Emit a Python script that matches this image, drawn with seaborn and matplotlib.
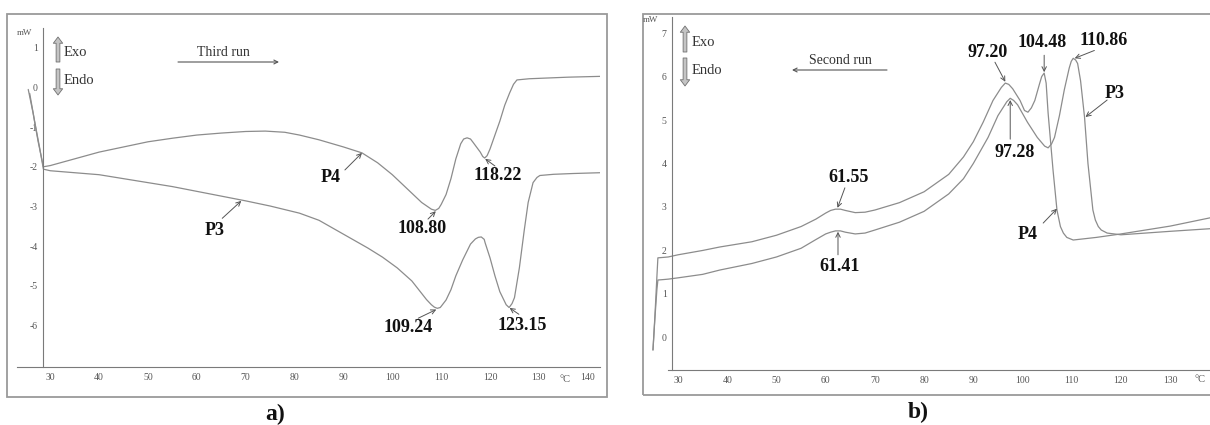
import matplotlib
matplotlib.use("Agg")
import matplotlib.pyplot as plt
import seaborn as sns
from matplotlib.patches import Rectangle
from matplotlib.ticker import MultipleLocator

# ---------------- data ----------------
# Panel a) third run
a_p4_temp = [25.5, 26.5, 27.5, 28.6, 30, 35, 40, 45, 50, 55, 60, 65, 70, 74, 78, 81, 85, 90,
             93.8, 97, 100, 103, 106, 108, 108.8, 109.5, 110, 111, 112, 113, 114, 114.6, 115.3,
             116, 116.5, 118, 118.5, 118.9, 119.4, 120, 121, 122, 123, 124, 124.8, 125.5, 128,
             132, 136, 142.5]
a_p4_mw = [-0.05, -0.65, -1.35, -2.0, -1.97, -1.8, -1.63, -1.5, -1.37, -1.28, -1.2, -1.15, -1.11,
           -1.1, -1.13, -1.2, -1.32, -1.5, -1.65, -1.9, -2.2, -2.55, -2.9, -3.07, -3.1, -3.05,
           -2.95, -2.7, -2.3, -1.8, -1.42, -1.3, -1.27, -1.3, -1.38, -1.63, -1.74, -1.78, -1.72,
           -1.55, -1.2, -0.85, -0.45, -0.14, 0.08, 0.19, 0.22, 0.24, 0.26, 0.28]
a_p3_temp = [25.8, 26.8, 27.8, 28.6, 30, 35, 40, 45, 50, 55, 60, 65, 70, 75, 81, 85, 90, 95, 98,
             101, 104, 107, 108, 108.6, 109.2, 109.8, 110, 111, 112, 113, 114.4, 116, 117, 117.6,
             118.2, 118.8, 119, 120, 121, 122, 123.3, 123.9, 124.5, 125, 126, 127, 127.8, 128.8,
             129.6, 130.2, 133, 137, 142.5]
a_p3_mw = [-0.15, -0.85, -1.5, -2.06, -2.1, -2.15, -2.2, -2.3, -2.4, -2.5, -2.62, -2.74, -2.86,
           -2.99, -3.17, -3.35, -3.7, -4.05, -4.28, -4.55, -4.88, -5.35, -5.48, -5.54, -5.57,
           -5.55, -5.52, -5.36, -5.1, -4.75, -4.35, -3.95, -3.82, -3.78, -3.77, -3.83, -3.92,
           -4.3, -4.75, -5.15, -5.48, -5.55, -5.45, -5.3, -4.55, -3.6, -2.9, -2.4, -2.27, -2.22,
           -2.19, -2.17, -2.15]

# Panel b) second run
b_p4_temp = [24.9, 25.3, 25.7, 25.9, 27, 28, 30, 35, 38.5, 45, 50, 55, 58, 60, 61, 62, 63, 64, 66,
             68, 70, 75, 80, 85, 88, 90, 92, 94, 95.7, 96.5, 97.2, 98, 99.5, 100.4, 101.1, 101.8,
             102.5, 103.5, 103.9, 104.4, 104.8, 105.2, 106.2, 107.0, 107.7, 108.3, 109, 110.3,
             115, 120, 125, 130, 138.1]
b_p4_mw = [-0.29, 0.5, 1.4, 1.83, 1.84, 1.85, 1.9, 2.0, 2.08, 2.2, 2.35, 2.55, 2.72, 2.86, 2.92,
           2.95, 2.95, 2.92, 2.87, 2.88, 2.93, 3.1, 3.35, 3.75, 4.15, 4.5, 4.95, 5.45, 5.75, 5.85,
           5.82, 5.72, 5.45, 5.22, 5.18, 5.28, 5.45, 5.85, 6.0, 6.08, 5.85, 5.16, 3.85, 2.93, 2.55,
           2.4, 2.3, 2.24, 2.3, 2.38, 2.47, 2.56, 2.75]
b_p3_temp = [24.9, 25.3, 25.7, 25.9, 27, 28, 30, 35, 38.5, 45, 50, 55, 58, 60, 61, 62, 63, 64, 66,
             68, 70, 75, 80, 85, 88, 90, 93, 95, 96.8, 97.5, 98.2, 99, 101, 103, 104.5, 105.2,
             105.9, 106.5, 107.5, 108.5, 109.5, 109.9, 110.3, 110.8, 111.2, 111.8, 112.6, 113.3,
             114.3, 114.8, 115.4, 116, 117.2, 120, 125, 130, 138.1]
b_p3_mw = [-0.29, 0.45, 1.1, 1.32, 1.33, 1.34, 1.37, 1.45, 1.55, 1.7, 1.85, 2.05, 2.25, 2.38, 2.42,
           2.45, 2.45, 2.42, 2.38, 2.4, 2.47, 2.65, 2.9, 3.3, 3.65, 4.0, 4.6, 5.1, 5.42, 5.5, 5.45,
           5.35, 4.95, 4.6, 4.4, 4.36, 4.45, 4.6, 5.1, 5.7, 6.2, 6.35, 6.42, 6.38, 6.3, 5.9, 5.07,
           4.0, 2.93, 2.7, 2.55, 2.47, 2.4, 2.36, 2.4, 2.44, 2.5]

a_xticks = [30, 40, 50, 60, 70, 80, 90, 100, 110, 120, 130, 140]
a_yticks = [-6, -5, -4, -3, -2, -1, 0, 1]
b_xticks = [30, 40, 50, 60, 70, 80, 90, 100, 110, 120, 130]
b_yticks = [0, 1, 2, 3, 4, 5, 6, 7]

# peak labels: (text, text position, arrow start, arrow tip)
a_labels = [
    ("P4", (87.3, -2.28), (90.3, -2.08), (93.8, -1.65)),
    ("P3", (63.7, -3.6), (65.2, -3.3), (69.1, -2.86)),
    ("108.80", (106.1, -3.55), (107.3, -3.32), (108.9, -3.12)),
    ("118.22", (121.6, -2.23), (121.0, -1.98), (119.0, -1.8)),
    ("109.24", (103.2, -6.05), (105.3, -5.82), (109.0, -5.6)),
    ("123.15", (126.5, -6.0), (125.9, -5.72), (124.0, -5.56)),
]
b_labels = [
    ("97.20", (93.0, 6.56), (94.4, 6.33), (96.5, 5.88)),
    ("104.48", (104.0, 6.79), (104.4, 6.49), (104.4, 6.1)),
    ("110.86", (116.4, 6.84), (114.6, 6.6), (110.6, 6.42)),
    ("97.28", (98.5, 4.26), (97.5, 4.56), (97.5, 5.46)),
    ("P3", (118.8, 5.62), (117.2, 5.46), (112.8, 5.07)),
    ("P4", (101.1, 2.36), (104.2, 2.63), (107.0, 2.96)),
    ("61.55", (64.6, 3.67), (63.9, 3.44), (62.4, 2.98)),
    ("61.41", (62.9, 1.62), (62.5, 1.9), (62.5, 2.43)),
]

# ---------------- style ----------------
sns.set_theme(style="white")
plt.rcParams["font.family"] = ["Liberation Serif", "DejaVu Serif"]

W, H = 1210, 425
fig = plt.figure(figsize=(12.1, 4.25), dpi=100)
fig.patch.set_facecolor("white")

# outer frames
fig.add_artist(Rectangle((7 / W, 1 - 397 / H), 600 / W, 383 / H, transform=fig.transFigure,
                         fill=False, ec="#9a9a9a", lw=1.3))
fig.add_artist(Rectangle((643 / W, 1 - 395 / H), 580 / W, 381 / H, transform=fig.transFigure,
                         fill=False, ec="#9a9a9a", lw=1.3))

axa = fig.add_axes([17 / W, 1 - 367 / H, 583 / W, 339 / H])
axb = fig.add_axes([651 / W, 1 - 370 / H, 559 / W, 353 / H])

line_col = "#8c8c8c"
sns.lineplot(x=a_p4_temp, y=a_p4_mw, ax=axa, sort=False, estimator=None, color=line_col, lw=0.9)
sns.lineplot(x=a_p3_temp, y=a_p3_mw, ax=axa, sort=False, estimator=None, color=line_col, lw=0.9)
sns.lineplot(x=b_p4_temp, y=b_p4_mw, ax=axb, sort=False, estimator=None, color=line_col, lw=0.9)
sns.lineplot(x=b_p3_temp, y=b_p3_mw, ax=axb, sort=False, estimator=None, color=line_col, lw=0.9)

axa.set_xlim(23.2, 142.5)
axa.set_ylim(-7.05, 1.5)
axb.set_xlim(24.5, 138.1)
axb.set_ylim(-0.75, 7.37)


def style(ax, ypos, xt, yt, xbound):
    ax.set_facecolor("none")
    for s in ("top", "right"):
        ax.spines[s].set_visible(False)
    ax.spines["left"].set_position(("data", ypos))
    ax.spines["bottom"].set_bounds(*xbound)
    for s in ("left", "bottom"):
        ax.spines[s].set_color("#7a7a7a")
        ax.spines[s].set_linewidth(0.8)
    ax.set_xticks(xt, [str(v) for v in xt])
    ax.set_yticks(yt, [str(v) for v in yt])
    ax.xaxis.set_minor_locator(MultipleLocator(2))
    ax.yaxis.set_minor_locator(MultipleLocator(0.2))
    ax.tick_params(which="major", direction="inout", length=4, width=0.6, colors="#7a7a7a",
                   labelsize=7, labelcolor="#555555", pad=2)
    ax.tick_params(which="minor", direction="inout", length=2.5, width=0.5, colors="#8a8a8a")
    ax.set_xlabel("")
    ax.set_ylabel("")
    ax.grid(False)


style(axa, 28.6, a_xticks, a_yticks, (23.2, 142.5))
style(axb, 28.8, b_xticks, b_yticks, (28.0, 138.1))

lab_kw = dict(ha="center", va="center", fontsize=13, fontweight="bold", color="#111111")
arr_kw = dict(arrowstyle="->", color="#555555", lw=0.7, shrinkA=0, shrinkB=0, mutation_scale=8)
for ax, labels in ((axa, a_labels), (axb, b_labels)):
    for txt, tpos, start, tip in labels:
        ax.text(*tpos, txt, **lab_kw)
        ax.annotate("", xy=tip, xytext=start, arrowprops=arr_kw)


def ftext(x, y, s, **kw):
    fig.text(x / W, 1 - y / H, s, **kw)


def farrow(x0, y0, x1, y1, block=False):
    if block:
        props = dict(arrowstyle="simple,head_length=0.5,head_width=0.75,tail_width=0.3",
                     fc="#c4c4c4", ec="#707070", lw=0.6, shrinkA=0, shrinkB=0, mutation_scale=9)
    else:
        props = dict(arrowstyle="->", color="#555555", lw=0.8, shrinkA=0, shrinkB=0,
                     mutation_scale=7)
    axa.annotate("", xy=(x1, H - y1), xytext=(x0, H - y0), xycoords="figure pixels",
                 textcoords="figure pixels", arrowprops=props, annotation_clip=False)


txt_kw = dict(fontsize=10.5, color="#333333", va="center")
# panel a decorations
farrow(58, 62, 58, 37, block=True)
farrow(58, 69, 58, 95, block=True)
ftext(64, 53, "Exo", **txt_kw)
ftext(64, 81, "Endo", **txt_kw)
ftext(223, 53, "Third run", ha="center", va="center", fontsize=10, color="#333333")
farrow(178, 62, 279, 62)
ftext(24, 33, "mW", ha="center", va="center", fontsize=6.5, color="#555555")
ftext(565, 379, "°C", ha="center", va="center", fontsize=7.5, color="#555555")
ftext(275, 414, "a)", ha="center", va="center", fontsize=17, fontweight="bold", color="#111111")

# panel b decorations
farrow(685, 52, 685, 26, block=True)
farrow(685, 58, 685, 86, block=True)
ftext(692, 42, "Exo", **txt_kw)
ftext(692, 71, "Endo", **txt_kw)
ftext(840, 60, "Second run", ha="center", va="center", fontsize=10, color="#333333")
farrow(887, 70, 792, 70)
ftext(650, 20, "mW", ha="center", va="center", fontsize=6.5, color="#555555")
ftext(1200, 379, "°C", ha="center", va="center", fontsize=7.5, color="#555555")
ftext(918, 412, "b)", ha="center", va="center", fontsize=17, fontweight="bold", color="#111111")

fig.savefig("out.png", dpi=100, facecolor="white")
